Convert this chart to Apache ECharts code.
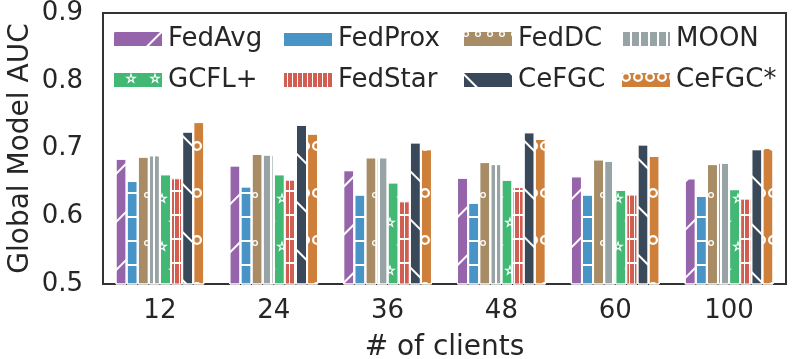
<!DOCTYPE html>
<html>
<head>
<meta charset="UTF-8">
<title>Global Model AUC</title>
<script src="https://cdn.jsdelivr.net/npm/echarts@6/dist/echarts.min.js"></script>
<style>
  html, body { margin: 0; padding: 0; background: #fff; }
  #chart { width: 793px; height: 359px; }
</style>
</head>
<body>
<div id="chart"></div>
<script>
// data
var clients = ['12', '24', '36', '48', '60', '100'];
var methods = ['FedAvg', 'FedProx', 'FedDC', 'MOON', 'GCFL+', 'FedStar', 'CeFGC', 'CeFGC*'];
var fedavg  = [0.685, 0.675, 0.668, 0.657, 0.659, 0.656];
var fedprox = [0.652, 0.644, 0.632, 0.620, 0.632, 0.630];
var feddc   = [0.688, 0.692, 0.687, 0.680, 0.684, 0.677];
var moon    = [0.690, 0.691, 0.687, 0.677, 0.682, 0.679];
var gcfl    = [0.662, 0.662, 0.650, 0.654, 0.639, 0.640];
var fedstar = [0.656, 0.654, 0.622, 0.643, 0.632, 0.626];
var cefgc   = [0.725, 0.735, 0.709, 0.724, 0.706, 0.699];
var cefgcS  = [0.739, 0.722, 0.699, 0.714, 0.689, 0.701];
var values = [fedavg, fedprox, feddc, moon, gcfl, fedstar, cefgc, cefgcS];

var colors = ['#9664aa', '#4894c6', '#a78c65', '#97a3a4', '#42b874', '#d25e52', '#394959', '#ce803b'];

var ring = 'path://M0,-10 A10,10 0 0,1 0,10 A10,10 0 0,1 0,-10 Z M0,-5.5 A5.5,5.5 0 0,0 0,5.5 A5.5,5.5 0 0,0 0,-5.5 Z';
var star = 'path://M0,-10 L2.245,-3.09 L9.511,-3.09 L3.633,1.18 L5.878,8.09 L0,3.82 L-5.878,8.09 L-3.633,1.18 L-9.511,-3.09 L-2.245,-3.09 Z ' +
           'M0,-4 L-0.9,-1.24 L-3.8,-1.24 L-1.45,0.47 L-2.35,3.24 L0,1.53 L2.35,3.24 L1.45,0.47 L3.8,-1.24 L0.9,-1.24 Z';

var decals = [
  // FedAvg  '/'
  { symbol: 'rect', symbolSize: 1, color: '#fff', dashArrayX: [1, 0], dashArrayY: [1.5, 31.5], rotation: -Math.PI / 4 },
  // FedProx '-'
  { symbol: 'rect', symbolSize: 1, color: '#fff', dashArrayX: [1, 0], dashArrayY: [1.5, 21.8], rotation: 0 },
  // FedDC 'o'
  { symbol: ring, symbolSize: 1, color: '#fff', dashArrayX: [5.5, 6], dashArrayY: [5.5, 41.2], rotation: 0 },
  // MOON '|'
  { symbol: 'rect', symbolSize: 1, color: '#fff', dashArrayX: [1.2, 6.8], dashArrayY: [1, 0], rotation: 0 },
  // GCFL+ '*'
  { symbol: star, symbolSize: 1, color: '#fff', dashArrayX: [[12, 12], [0, 12, 12, 0]], dashArrayY: [12, 11.3], rotation: 0 },
  // FedStar '+' : red cells separated by white lines
  { symbol: 'rect', symbolSize: 1, color: colors[5], backgroundColor: '#fff', dashArrayX: [3.4, 1], dashArrayY: [21.8, 1.5], rotation: 0 },
  // CeFGC '\'
  { symbol: 'rect', symbolSize: 1, color: '#fff', dashArrayX: [1, 0], dashArrayY: [1.5, 31.5], rotation: Math.PI / 4 },
  // CeFGC* 'O'
  { symbol: ring, symbolSize: 1, color: '#fff', dashArrayX: [10, 2], dashArrayY: [10, 36.7], rotation: 0 }
];

var txt = '#262626';
var font = 'DejaVu Sans';

var series = methods.map(function (m, i) {
  return {
    name: m,
    type: 'bar',
    data: values[i],
    barGap: '0%',
    barCategoryGap: '22%',
    itemStyle: { color: colors[i], borderColor: '#fff', borderWidth: 1, decal: decals[i] }
  };
});

var colLeft = [112, 282, 462, 620];
var legends = colLeft.map(function (x, c) {
  return {
    data: [methods[c], methods[c + 4]],
    orient: 'vertical',
    left: x,
    top: 26,
    padding: 0,
    icon: 'rect',
    itemWidth: 50,
    itemHeight: 16,
    itemGap: 15,
    selectedMode: false,
    textStyle: { fontSize: 26, color: txt, fontFamily: font }
  };
});

var chart = echarts.init(document.getElementById('chart'), null, { renderer: 'canvas' });
chart.setOption({
  backgroundColor: '#fff',
  animation: false,
  color: colors,
  legend: legends,
  grid: { left: 103, right: 7, top: 13, bottom: 75, outerBoundsMode: 'none', containLabel: false,
          show: true, borderColor: '#333', borderWidth: 2, backgroundColor: 'transparent' },
  xAxis: {
    type: 'category',
    data: clients,
    name: '# of clients',
    nameLocation: 'middle',
    nameGap: 50,
    nameTextStyle: { fontSize: 28, color: txt, fontFamily: font },
    axisLine: { show: false },
    axisTick: { show: false },
    axisLabel: { fontSize: 26, color: txt, fontFamily: font, margin: 14 }
  },
  yAxis: {
    type: 'value',
    min: 0.5,
    max: 0.9,
    interval: 0.1,
    name: 'Global Model AUC',
    nameLocation: 'middle',
    nameGap: 68,
    nameMoveOverlap: false,
    nameTextStyle: { fontSize: 28, color: txt, fontFamily: font },
    axisLine: { show: false },
    axisTick: { show: false },
    splitLine: { show: false },
    axisLabel: { fontSize: 26, color: txt, fontFamily: font, margin: 20,
                 formatter: function (v) { return v.toFixed(1); } }
  },
  series: series
});
</script>
</body>
</html>
